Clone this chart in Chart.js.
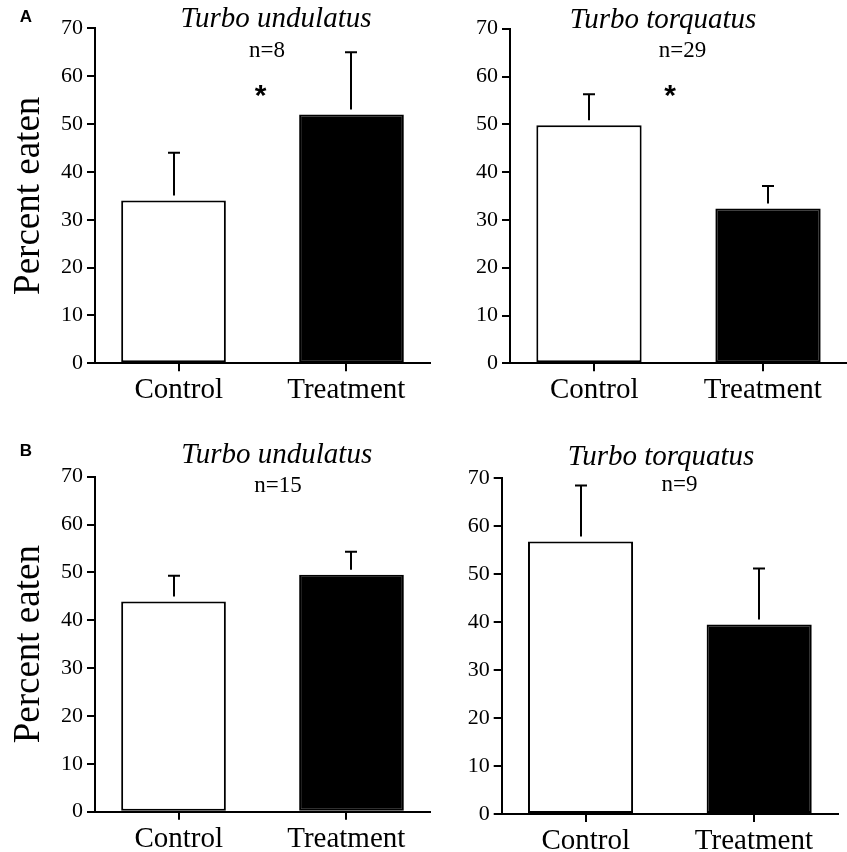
<!DOCTYPE html>
<html><head><meta charset="utf-8">
<script src="https://cdn.jsdelivr.net/npm/chart.js@4.4.1/dist/chart.umd.min.js"></script>
<style>
html,body{margin:0;padding:0;background:#fff;}
#wrap{position:relative;width:847px;height:852px;background:#fff;}
canvas{position:absolute;left:0;top:0;}
</style></head><body>
<div id="wrap">
<canvas id="c0" width="847" height="852"></canvas>
<canvas id="c1" width="847" height="852"></canvas>
<canvas id="c2" width="847" height="852"></canvas>
<canvas id="c3" width="847" height="852"></canvas>
</div>
<script>
// ---- data ----
const categories = ['Control', 'Treatment'];
const yTicks = [0, 10, 20, 30, 40, 50, 60, 70];
const panelLetters = ['A', '', 'B', ''];
const panelTitles = ['Turbo undulatus', 'Turbo torquatus', 'Turbo undulatus', 'Turbo torquatus'];
const sampleSizes = ['n=8', 'n=29', 'n=15', 'n=9'];
const significant = [true, true, false, false];
const yAxisLabel = 'Percent eaten';

const meansA_undulatus = [34.0, 52.0];
const errA_undulatus = [10.0, 13.0];
const meansA_torquatus = [49.8, 32.4];
const errA_torquatus = [6.5, 4.7];
const meansB_undulatus = [43.9, 49.5];
const errB_undulatus = [5.4, 4.8];
const meansB_torquatus = [56.8, 39.5];
const errB_torquatus = [11.7, 11.7];

const panelMeans = [meansA_undulatus, meansA_torquatus, meansB_undulatus, meansB_torquatus];
const panelErrs = [errA_undulatus, errA_torquatus, errB_undulatus, errB_torquatus];

// ---- layout (pixel boxes for each panel, not data) ----
const W = 847, H = 852, X_AXIS_H = 50;
const barColors = ['#ffffff', '#000000'];
const boxes = [
  {left: 95, right: 430, top: 28.3, bottom: 363.3, yAxisW: 95, showYTitle: true,
   letterX: 26, letterY: 17, titleX: 276, titleY: 26.5, nX: 267, nY: 56.5, starX: 260.5, starY: 93},
  {left: 510, right: 847, top: 28.7, bottom: 363.3, yAxisW: 80, showYTitle: false,
   titleX: 663, titleY: 28.3, nX: 682.5, nY: 56.7, starX: 670, starY: 93},
  {left: 95, right: 430, top: 476.7, bottom: 811.7, yAxisW: 95, showYTitle: true,
   letterX: 26, letterY: 451, titleX: 276.7, titleY: 463.3, nX: 278, nY: 491.5},
  {left: 501.7, right: 838, top: 478.3, bottom: 814, yAxisW: 71.7, showYTitle: false,
   titleX: 661, titleY: 465, nX: 679.5, nY: 491}
];

const SERIF = "'Liberation Serif', 'Times New Roman', serif";

const annotPlugin = {
  id: 'annot',
  afterDatasetsDraw(chart, args, opts) {
    const p = opts.panel;
    const ctx = chart.ctx;
    const ys = chart.scales.y;
    const means = panelMeans[p], errs = panelErrs[p];
    ctx.save();
    ctx.strokeStyle = '#000';
    ctx.lineWidth = 2;
    for (let i = 0; i < means.length; i++) {
      const bar = chart.getDatasetMeta(i).data[i];
      const x = Math.round(bar.x);
      const yb = ys.getPixelForValue(means[i]);
      const yt = ys.getPixelForValue(means[i] + errs[i]);
      ctx.beginPath();
      ctx.moveTo(x, yb - 5);
      ctx.lineTo(x, yt);
      ctx.moveTo(x - 6, yt);
      ctx.lineTo(x + 6, yt);
      ctx.stroke();
    }
    ctx.restore();
  },
  afterDraw(chart, args, opts) {
    const p = opts.panel;
    const b = boxes[p];
    const ctx = chart.ctx;
    ctx.save();
    ctx.fillStyle = '#000';
    ctx.textAlign = 'center';
    ctx.textBaseline = 'alphabetic';
    ctx.font = 'italic 29px ' + SERIF;
    ctx.fillText(panelTitles[p], b.titleX, b.titleY);
    ctx.font = '23px ' + SERIF;
    ctx.fillText(sampleSizes[p], b.nX, b.nY);
    if (significant[p]) {
      ctx.font = "bold 30px 'Liberation Sans', Arial, sans-serif";
      ctx.textBaseline = 'middle';
      ctx.fillText('*', b.starX, b.starY + 4);
    }
    if (panelLetters[p]) {
      ctx.font = "bold 17px 'Liberation Sans', Arial, sans-serif";
      ctx.textBaseline = 'middle';
      ctx.fillText(panelLetters[p], b.letterX, b.letterY);
    }
    ctx.restore();
  }
};

function makeChart(p) {
  const b = boxes[p];
  const means = panelMeans[p];
  // one dataset per condition, each holding its value only at its own category
  const datasets = categories.map((name, d) => ({
    label: name,
    data: means.map((v, i) => (i === d ? v : null)),
    backgroundColor: barColors[d],
    borderColor: '#000000',
    borderWidth: 2,
    borderSkipped: false,
    barPercentage: 10,
    categoryPercentage: 0.125
  }));
  return new Chart(document.getElementById('c' + p), {
    type: 'bar',
    data: {labels: categories, datasets},
    options: {
      responsive: false,
      animation: false,
      events: [],
      layout: {
        padding: {
          left: b.left - b.yAxisW,
          right: W - b.right,
          top: b.top,
          bottom: H - b.bottom - X_AXIS_H
        }
      },
      plugins: {
        legend: {display: false},
        tooltip: {enabled: false},
        title: {display: false},
        annot: {panel: p}
      },
      scales: {
        x: {
          offset: true,
          grid: {display: true, drawOnChartArea: false, drawTicks: true, tickLength: 8,
                 offset: false, color: '#000', lineWidth: 2},
          border: {display: true, color: '#000', width: 2},
          ticks: {color: '#000', padding: 2, font: {family: SERIF, size: 29}, maxRotation: 0},
          afterFit(s) { s.height = X_AXIS_H; }
        },
        y: {
          min: yTicks[0],
          max: yTicks[yTicks.length - 1],
          afterBuildTicks(s) { s.ticks = yTicks.map(v => ({value: v})); },
          grid: {display: true, drawOnChartArea: false, drawTicks: true, tickLength: 8,
                 color: '#000', lineWidth: 2},
          border: {display: true, color: '#000', width: 2},
          ticks: {color: '#000', padding: 4, font: {family: SERIF, size: 22}},
          title: {display: b.showYTitle, text: yAxisLabel, color: '#000',
                  font: {family: SERIF, size: 37}, padding: {top: 7, bottom: 0}},
          afterFit(s) { s.width = b.yAxisW; }
        }
      }
    },
    plugins: [annotPlugin]
  });
}
for (let p = 0; p < 4; p++) makeChart(p);
</script>
</body></html>
